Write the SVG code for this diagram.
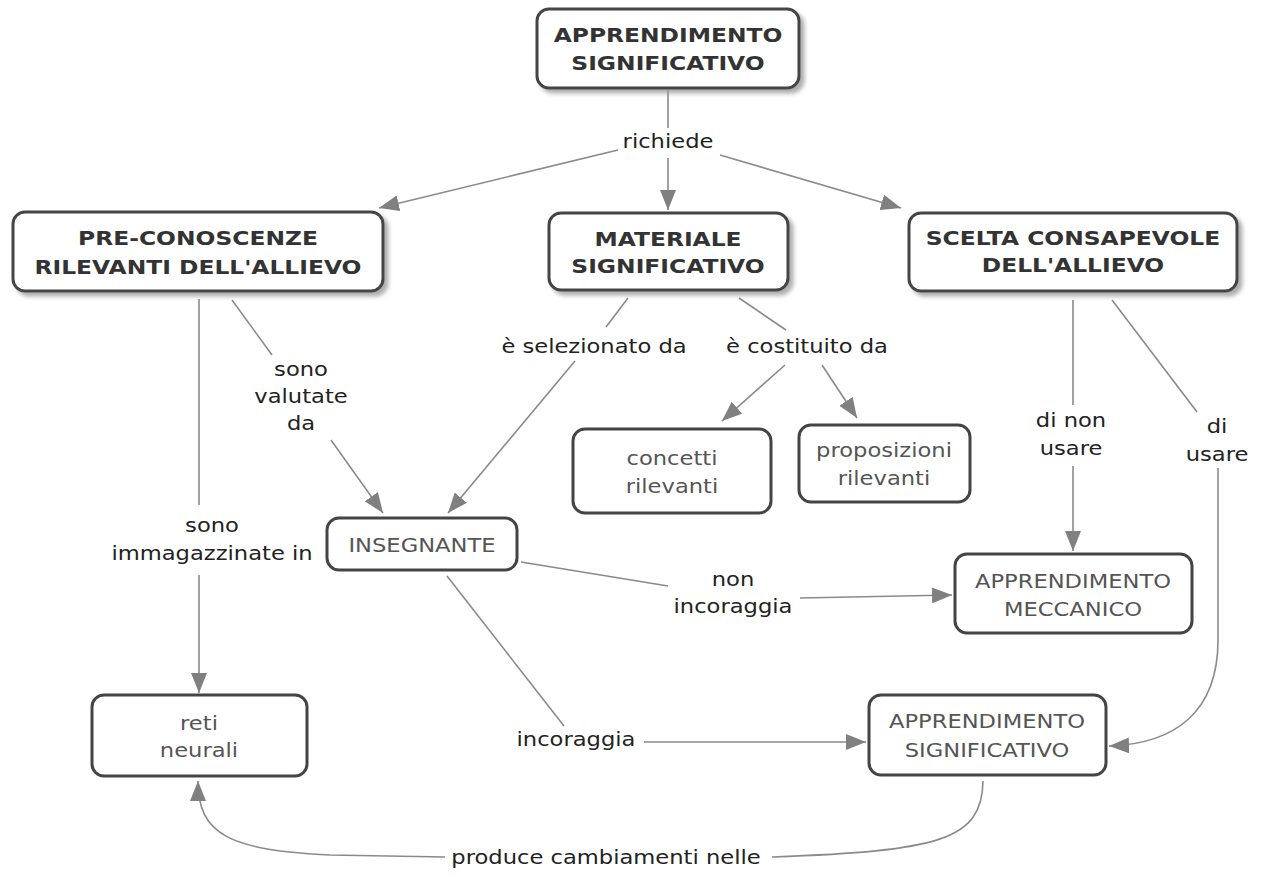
<svg xmlns="http://www.w3.org/2000/svg" width="1268" height="876" viewBox="0 0 1268 876">
<defs>
<style>
.box{fill:#fff;stroke:#444;stroke-width:3}
.bt{font-family:"DejaVu Sans",Verdana,sans-serif;font-weight:bold;font-size:20px;fill:#333;text-anchor:middle}
.nt{font-family:"DejaVu Sans",Verdana,sans-serif;font-size:19.5px;fill:#555;text-anchor:middle}
.lt{font-family:"DejaVu Sans",Verdana,sans-serif;font-size:19.5px;fill:#222;text-anchor:middle}
.c{fill:none;stroke:#8a8a8a;stroke-width:1.6}
.a{marker-end:url(#ah)}
</style>
<filter id="sh" x="-10%" y="-20%" width="130%" height="150%">
<feDropShadow dx="4" dy="4" stdDeviation="2" flood-color="#999" flood-opacity="0.8"/>
</filter>
<marker id="ah" viewBox="0 0 20 16" refX="20" refY="8" markerWidth="20" markerHeight="16" markerUnits="userSpaceOnUse" orient="auto">
<path d="M0,0 L20,8 L0,16 z" fill="#808080"/>
</marker>
</defs>
<rect width="1268" height="876" fill="#fff"/>

<g id="connectors">
<path class="c" d="M668,88 L668,128"/>
<path class="c a" d="M668,158 L668,210"/>
<path class="c a" d="M618,150 L379,208"/>
<path class="c a" d="M720,155 L901,208"/>
<path class="c" d="M232,300 L272,355"/>
<path class="c a" d="M331,440 L383,513"/>
<path class="c" d="M628,298 L606,327"/>
<path class="c a" d="M575,361 L448,513"/>
<path class="c" d="M739,298 L786,330"/>
<path class="c a" d="M785,365 L722,421"/>
<path class="c a" d="M822,365 L857,418"/>
<path class="c" d="M199,299 L199,505"/>
<path class="c a" d="M199,575 L199,693"/>
<path class="c" d="M1073,300 L1073,405"/>
<path class="c a" d="M1073,466 L1073,551"/>
<path class="c" d="M1112,300 L1197,412"/>
<path class="c a" d="M1218,468 L1218,640 C1218,712 1175,744 1109,746"/>
<path class="c" d="M521,562 L668,586"/>
<path class="c a" d="M800,598 L952,595"/>
<path class="c" d="M447,576 L564,726"/>
<path class="c a" d="M644,742 L866,742"/>
<path class="c" d="M983,781 C982,840 940,851 772,857"/>
<path class="c a" d="M445,857 L330,855 C230,850 198,835 198,781"/>
</g>

<g id="n1"><rect class="box" x="537" y="9" width="262" height="79" rx="12" filter="url(#sh)"/>
<text class="bt" transform="matrix(1.17 0 0 1 668 42)">APPRENDIMENTO</text>
<text class="bt" transform="matrix(1.17 0 0 1 668 70)">SIGNIFICATIVO</text></g>

<g id="n2"><rect class="box" x="13" y="212" width="370" height="79" rx="12" filter="url(#sh)"/>
<text class="bt" transform="matrix(1.17 0 0 1 198 245)">PRE-CONOSCENZE</text>
<text class="bt" transform="matrix(1.17 0 0 1 198 274)">RILEVANTI DELL'ALLIEVO</text></g>

<g id="n3"><rect class="box" x="549" y="213" width="239" height="77" rx="12" filter="url(#sh)"/>
<text class="bt" transform="matrix(1.17 0 0 1 668 246)">MATERIALE</text>
<text class="bt" transform="matrix(1.17 0 0 1 668 273)">SIGNIFICATIVO</text></g>

<g id="n4"><rect class="box" x="909" y="213" width="328" height="78" rx="12" filter="url(#sh)"/>
<text class="bt" transform="matrix(1.17 0 0 1 1073 245)">SCELTA CONSAPEVOLE</text>
<text class="bt" transform="matrix(1.17 0 0 1 1073 272)">DELL'ALLIEVO</text></g>

<g id="n5"><rect class="box" x="573" y="429" width="198" height="84" rx="12"/>
<text class="nt" transform="matrix(1.16 0 0 1 672 465)">concetti</text>
<text class="nt" transform="matrix(1.16 0 0 1 672 493)">rilevanti</text></g>

<g id="n6"><rect class="box" x="799" y="425" width="171" height="77" rx="12"/>
<text class="nt" transform="matrix(1.16 0 0 1 884 457)">proposizioni</text>
<text class="nt" transform="matrix(1.16 0 0 1 884 485)">rilevanti</text></g>

<g id="n7"><rect class="box" x="327" y="518" width="190" height="52" rx="12"/>
<text class="nt" transform="matrix(1.16 0 0 1 422 552)">INSEGNANTE</text></g>

<g id="n8"><rect class="box" x="955" y="554" width="237" height="79" rx="12"/>
<text class="nt" transform="matrix(1.16 0 0 1 1073 588)">APPRENDIMENTO</text>
<text class="nt" transform="matrix(1.16 0 0 1 1073 616)">MECCANICO</text></g>

<g id="n9"><rect class="box" x="869" y="695" width="237" height="80" rx="12"/>
<text class="nt" transform="matrix(1.16 0 0 1 987 728)">APPRENDIMENTO</text>
<text class="nt" transform="matrix(1.16 0 0 1 987 757)">SIGNIFICATIVO</text></g>

<g id="n10"><rect class="box" x="92" y="695" width="215" height="81" rx="12"/>
<text class="nt" transform="matrix(1.16 0 0 1 199 730)">reti</text>
<text class="nt" transform="matrix(1.16 0 0 1 199 757)">neurali</text></g>

<g id="labels">
<text class="lt" transform="matrix(1.16 0 0 1 668 148)">richiede</text>
<text class="lt" transform="matrix(1.16 0 0 1 301 376)">sono</text>
<text class="lt" transform="matrix(1.16 0 0 1 301 403)">valutate</text>
<text class="lt" transform="matrix(1.16 0 0 1 301 430)">da</text>
<text class="lt" transform="matrix(1.16 0 0 1 594 353)">è selezionato da</text>
<text class="lt" transform="matrix(1.16 0 0 1 807 353)">è costituito da</text>
<text class="lt" transform="matrix(1.16 0 0 1 212 532)">sono</text>
<text class="lt" transform="matrix(1.16 0 0 1 212 560)">immagazzinate in</text>
<text class="lt" transform="matrix(1.16 0 0 1 1071 427)">di non</text>
<text class="lt" transform="matrix(1.16 0 0 1 1071 455)">usare</text>
<text class="lt" transform="matrix(1.16 0 0 1 1217 433)">di</text>
<text class="lt" transform="matrix(1.16 0 0 1 1217 461)">usare</text>
<text class="lt" transform="matrix(1.16 0 0 1 733 586)">non</text>
<text class="lt" transform="matrix(1.16 0 0 1 733 613)">incoraggia</text>
<text class="lt" transform="matrix(1.16 0 0 1 576 746)">incoraggia</text>
<text class="lt" transform="matrix(1.16 0 0 1 606 864)">produce cambiamenti nelle</text>
</g>
</svg>
